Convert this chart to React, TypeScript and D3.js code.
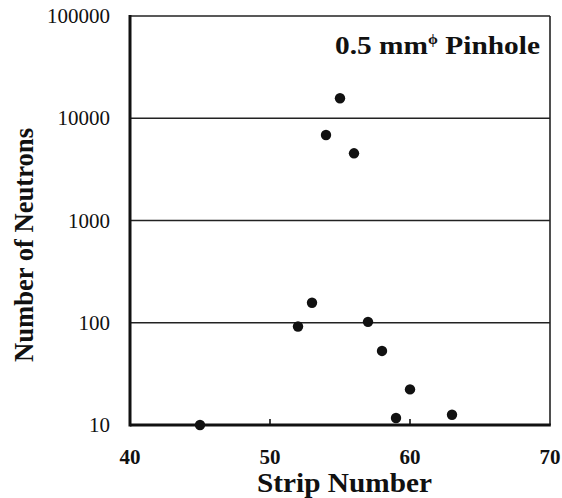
import React, { useEffect, useRef } from 'react';
import * as d3 from 'd3';

const strips = [45, 52, 53, 54, 55, 56, 57, 58, 59, 60, 63];
const neutrons = [10, 92, 157, 6860, 15700, 4540, 102, 53, 11.7, 22.3, 12.6];
const xTicks = [40, 50, 60, 70];
const yTicks = [10, 100, 1000, 10000, 100000];

const App = () => {
  const ref = useRef<SVGSVGElement>(null);

  useEffect(() => {
    const svg = d3.select(ref.current);
    svg.selectAll('*').remove();

    const left = 130, right = 550, top = 16, bottom = 425;
    const x = d3.scaleLinear().domain([40, 70]).range([left, right]);
    const y = d3.scaleLog().domain([10, 100000]).range([bottom, top]);
    const font = '"Liberation Serif", "Times New Roman", serif';

    // grid lines
    svg.append('g')
      .selectAll('line')
      .data(yTicks.slice(1, -1))
      .enter()
      .append('line')
      .attr('x1', left).attr('x2', right)
      .attr('y1', d => y(d)).attr('y2', d => y(d))
      .attr('stroke', '#222').attr('stroke-width', 1.6);

    // frame
    svg.append('line').attr('x1', left).attr('x2', right).attr('y1', top).attr('y2', top)
      .attr('stroke', '#222').attr('stroke-width', 1.6);
    svg.append('line').attr('x1', right).attr('x2', right).attr('y1', top).attr('y2', bottom)
      .attr('stroke', '#222').attr('stroke-width', 1.6);
    svg.append('line').attr('x1', left).attr('x2', left).attr('y1', top - 1).attr('y2', bottom + 1.5)
      .attr('stroke', '#111').attr('stroke-width', 3);
    svg.append('line').attr('x1', left).attr('x2', right + 0.8).attr('y1', bottom).attr('y2', bottom)
      .attr('stroke', '#111').attr('stroke-width', 3);

    // x ticks (inward)
    svg.append('g')
      .selectAll('line')
      .data(xTicks.slice(1, -1))
      .enter()
      .append('line')
      .attr('x1', d => x(d)).attr('x2', d => x(d))
      .attr('y1', bottom).attr('y2', bottom - 6)
      .attr('stroke', '#111').attr('stroke-width', 1.6);

    // y tick labels
    svg.append('g')
      .selectAll('text')
      .data(yTicks)
      .enter()
      .append('text')
      .attr('x', 110)
      .attr('y', d => y(d) + 7)
      .attr('text-anchor', 'end')
      .attr('font-family', font)
      .attr('font-size', 21)
      .attr('fill', '#111')
      .text(d => String(d));

    // x tick labels
    svg.append('g')
      .selectAll('text')
      .data(xTicks)
      .enter()
      .append('text')
      .attr('x', d => x(d))
      .attr('y', 464)
      .attr('text-anchor', 'middle')
      .attr('font-family', font)
      .attr('font-weight', 'bold')
      .attr('font-size', 21)
      .attr('fill', '#111')
      .text(d => String(d));

    // points
    svg.append('g')
      .selectAll('circle')
      .data(strips)
      .enter()
      .append('circle')
      .attr('cx', d => x(d))
      .attr('cy', (d, i) => y(neutrons[i]))
      .attr('r', 5.2)
      .attr('fill', '#111');

    // axis titles
    svg.append('text')
      .attr('x', 257)
      .attr('y', 492)
      .attr('font-family', font)
      .attr('font-weight', 'bold')
      .attr('font-size', 27)
      .attr('textLength', 175)
      .attr('lengthAdjust', 'spacingAndGlyphs')
      .attr('fill', '#111')
      .text('Strip Number');

    svg.append('text')
      .attr('transform', 'translate(33,362) rotate(-90)')
      .attr('font-family', font)
      .attr('font-weight', 'bold')
      .attr('font-size', 26.5)
      .attr('textLength', 234)
      .attr('lengthAdjust', 'spacingAndGlyphs')
      .attr('fill', '#111')
      .text('Number of Neutrons');

    // annotation
    const t = svg.append('text')
      .attr('x', 335)
      .attr('y', 54)
      .attr('font-family', font)
      .attr('font-weight', 'bold')
      .attr('font-size', 26)
      .attr('textLength', 205)
      .attr('lengthAdjust', 'spacingAndGlyphs')
      .attr('fill', '#111');
    t.append('tspan').text('0.5 mm');
    t.append('tspan').attr('font-size', 14).attr('dy', -10).text('ϕ');
    t.append('tspan').attr('dy', 10).text(' Pinhole');
  }, []);

  return (
    <svg ref={ref} width={562} height={498} style={{ position: 'absolute', left: 0, top: 0, background: '#fff' }} />
  );
};

export default App;
